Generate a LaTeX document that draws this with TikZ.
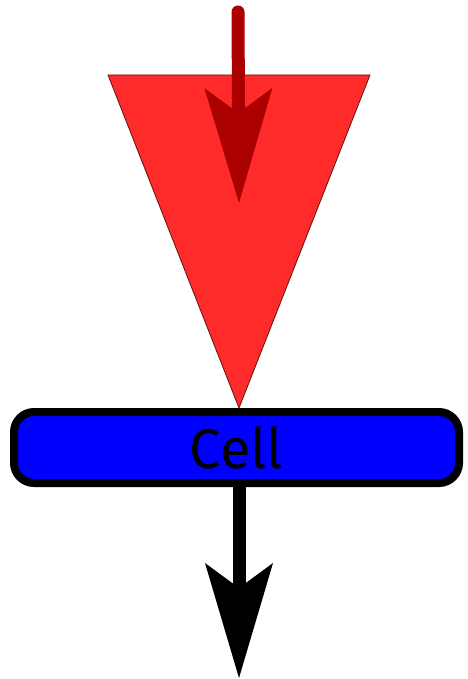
\documentclass[tikz,border=0pt]{standalone}
\usepackage{fontspec}
\setmainfont{Fira Sans}
\usetikzlibrary{arrows.meta}
\definecolor{trired}{HTML}{FF2A2A}
\definecolor{darkred}{HTML}{AA0000}
\definecolor{cellblue}{HTML}{0000FF}
\tikzset{
  tri/.style={fill=trired, draw=black!60!trired, line width=0.8pt},
  bigarrow/.style={line width=13pt, -{Stealth[length=115pt, width=68pt, inset=25pt, line width=0pt]}},
  cellbox/.style={draw=black, fill=cellblue, line width=8pt, rounded corners=20pt,
    minimum width=445pt, minimum height=71pt, inner sep=0pt,
    font=\fontsize{56pt}{60pt}\selectfont}
}
\begin{document}
\begin{tikzpicture}[x=1pt,y=-1pt]
\useasboundingbox (0,0) rectangle (467,679);
\coordinate (t1) at (108,75);
\coordinate (t2) at (370,75);
\coordinate (t3) at (239,408);
\fill[tri] (t1) -- (t2) -- (t3) -- cycle;
\coordinate (instart) at (238,12);
\coordinate (inend) at (239,203);
\draw[bigarrow, darkred, line cap=round] (instart) -- (inend);
\node[cellbox] (cell) at (236.5,447.5) {Cell};
\coordinate (outend) at (239,678);
\draw[bigarrow, black] (cell.south -| outend) -- (outend);
\end{tikzpicture}
\end{document}
